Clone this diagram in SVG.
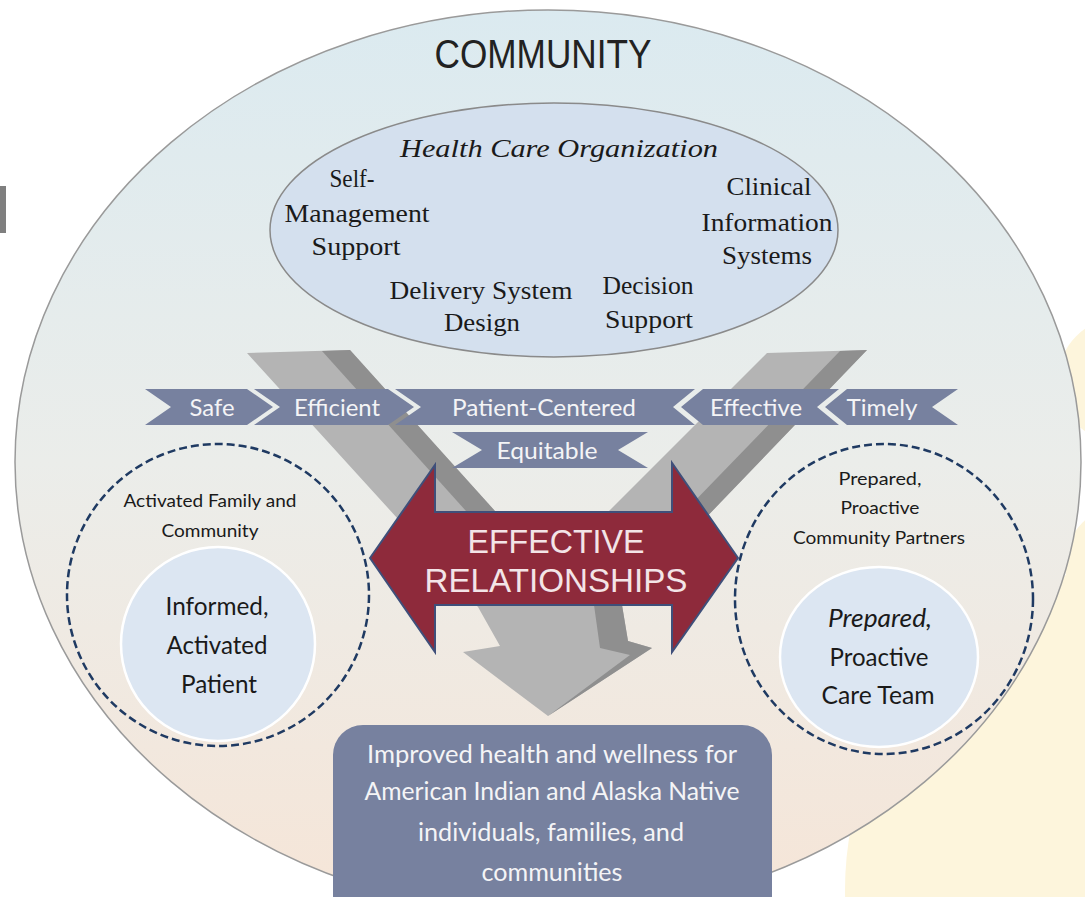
<svg xmlns="http://www.w3.org/2000/svg" width="1085" height="897" viewBox="0 0 1085 897">
<defs>
<linearGradient id="commGrad" x1="0" y1="0" x2="0" y2="1">
<stop offset="0" stop-color="#dbeaf0"/>
<stop offset="0.5" stop-color="#ebedea"/>
<stop offset="1" stop-color="#f6e5d7"/>
</linearGradient>
<style>
.serif{font-family:"Liberation Serif","DejaVu Serif",serif;fill:#1a1a1a;font-size:26px;text-anchor:middle}
.sans{font-family:Lato,"Liberation Sans",sans-serif;text-anchor:middle}
.dark{fill:#1a1a1a}
.white{fill:#f4f4f6}
.ribbon{fill:#77819f}
.dash{fill:none;stroke:#1f3a62;stroke-width:2.5;stroke-dasharray:8 4}
.inner{fill:#dce6f2;stroke:#ffffff;stroke-width:2.5}
.yellow{fill:#fdf5dc}
</style>
</defs>
<rect width="1085" height="897" fill="#ffffff"/>
<g id="background">
<circle class="yellow" cx="1120" cy="380" r="62"/>
<circle class="yellow" cx="1125" cy="565" r="60"/>
<circle class="yellow" cx="1180" cy="890" r="335"/>
<rect x="0" y="186" width="6" height="47" fill="#7f7f7f"/>
</g>
<g id="community">
<ellipse cx="548" cy="462" rx="533" ry="452" fill="url(#commGrad)" stroke="#9a9a9a" stroke-width="1.5"/>
<text x="543" y="68" font-family="'Liberation Sans',sans-serif" font-size="40" fill="#222" text-anchor="middle" textLength="217" lengthAdjust="spacingAndGlyphs">COMMUNITY</text>
</g>
<g id="health-care-organization">
<ellipse cx="554" cy="230" rx="284" ry="127" fill="#d4e0ee" stroke="#8a8a8a" stroke-width="1.5"/>
<text class="serif" x="559" y="157" font-size="28" font-style="italic" textLength="318" lengthAdjust="spacingAndGlyphs">Health Care Organization</text>
<text class="serif" x="352" y="187" textLength="45" lengthAdjust="spacingAndGlyphs">Self-</text>
<text class="serif" x="357" y="222" textLength="145" lengthAdjust="spacingAndGlyphs">Management</text>
<text class="serif" x="356" y="255" textLength="89" lengthAdjust="spacingAndGlyphs">Support</text>
<text class="serif" x="769" y="195" textLength="85" lengthAdjust="spacingAndGlyphs">Clinical</text>
<text class="serif" x="767" y="231" textLength="131" lengthAdjust="spacingAndGlyphs">Information</text>
<text class="serif" x="767" y="264" textLength="90" lengthAdjust="spacingAndGlyphs">Systems</text>
<text class="serif" x="481" y="299" textLength="183" lengthAdjust="spacingAndGlyphs">Delivery System</text>
<text class="serif" x="482" y="331" textLength="76" lengthAdjust="spacingAndGlyphs">Design</text>
<text class="serif" x="648" y="294" textLength="91" lengthAdjust="spacingAndGlyphs">Decision</text>
<text class="serif" x="649" y="328" textLength="88" lengthAdjust="spacingAndGlyphs">Support</text>
</g>
<g id="v-arrow">
<path d="M247,353 L350,350 L549,571 L767,353 L867,350 L622,605 L628,641 L652,648 L548,716 L463,652 L500,646 L478,607 Z" fill="#b4b4b4"/>
<path d="M322,351 L350,350 L549,571 L520,571 Z" fill="#8f8f8f"/>
<path d="M840,351 L867,350 L622,605 L628,641 L652,648 L548,716 L630,655 L600,648 L594,605 Z" fill="#8f8f8f"/>
</g>
<g id="ribbons">
<g id="safe">
<polygon class="ribbon" points="145,389 247,389 273,407 247,425 145,425 171,407"/>
<text class="sans white" x="212" y="416" font-size="24" textLength="45" lengthAdjust="spacingAndGlyphs">Safe</text>
</g>
<g id="efficient">
<polygon class="ribbon" points="254,389 388,389 414,407 388,425 254,425 280,407"/>
<text class="sans white" x="337" y="416" font-size="24" textLength="86" lengthAdjust="spacingAndGlyphs">Efficient</text>
</g>
<g id="patient-centered">
<polygon class="ribbon" points="395,389 695,389 673,407 695,425 395,425 421,407"/>
<text class="sans white" x="544" y="416" font-size="24" textLength="184" lengthAdjust="spacingAndGlyphs">Patient-Centered</text>
</g>
<g id="effective">
<polygon class="ribbon" points="703,389 839,389 817,407 839,425 703,425 681,407"/>
<text class="sans white" x="756" y="416" font-size="24" textLength="92" lengthAdjust="spacingAndGlyphs">Effective</text>
</g>
<g id="timely">
<polygon class="ribbon" points="847,389 958,389 932,407 958,425 847,425 825,407"/>
<text class="sans white" x="882" y="416" font-size="24" textLength="71" lengthAdjust="spacingAndGlyphs">Timely</text>
</g>
<g id="equitable">
<polygon class="ribbon" points="452,432 648,432 618,450 648,468 452,468 482,450"/>
<text class="sans white" x="547" y="459" font-size="24" textLength="101" lengthAdjust="spacingAndGlyphs">Equitable</text>
</g>
</g>
<g id="patient-side">
<circle class="dash" cx="218" cy="595" r="151"/>
<text class="sans dark" x="210" y="507" font-size="18" textLength="173" lengthAdjust="spacingAndGlyphs">Activated Family and</text>
<text class="sans dark" x="210" y="537" font-size="18" textLength="97" lengthAdjust="spacingAndGlyphs">Community</text>
<circle class="inner" cx="218" cy="644" r="97"/>
<text class="sans dark" x="217" y="615" font-size="25" textLength="103" lengthAdjust="spacingAndGlyphs">Informed,</text>
<text class="sans dark" x="217" y="654" font-size="25" textLength="101" lengthAdjust="spacingAndGlyphs">Activated</text>
<text class="sans dark" x="219" y="693" font-size="25" textLength="76" lengthAdjust="spacingAndGlyphs">Patient</text>
</g>
<g id="team-side">
<ellipse class="dash" cx="884" cy="599" rx="149" ry="155"/>
<text class="sans dark" x="880" y="485" font-size="18" textLength="83" lengthAdjust="spacingAndGlyphs">Prepared,</text>
<text class="sans dark" x="880" y="514" font-size="18" textLength="79" lengthAdjust="spacingAndGlyphs">Proactive</text>
<text class="sans dark" x="879" y="544" font-size="18" textLength="172" lengthAdjust="spacingAndGlyphs">Community Partners</text>
<ellipse class="inner" cx="879" cy="657" rx="99" ry="90"/>
<text class="sans dark" x="880" y="627" font-size="25" font-style="italic" textLength="104" lengthAdjust="spacingAndGlyphs">Prepared,</text>
<text class="sans dark" x="879" y="666" font-size="25" textLength="99" lengthAdjust="spacingAndGlyphs">Proactive</text>
<text class="sans dark" x="878" y="704" font-size="25" textLength="113" lengthAdjust="spacingAndGlyphs">Care Team</text>
</g>
<g id="effective-relationships">
<polygon points="370,558 435,465 435,512 672,512 672,463 738,558 672,652 672,605 435,605 435,652" fill="#8e2a3b" stroke="#3f4f7a" stroke-width="2"/>
<text x="556" y="553" font-family="'Liberation Sans',sans-serif" font-size="34" fill="#f3e4e7" text-anchor="middle" textLength="177" lengthAdjust="spacingAndGlyphs">EFFECTIVE</text>
<text x="556" y="592" font-family="'Liberation Sans',sans-serif" font-size="34" fill="#f3e4e7" text-anchor="middle" textLength="263" lengthAdjust="spacingAndGlyphs">RELATIONSHIPS</text>
</g>
<g id="outcome">
<rect x="333" y="725" width="439" height="200" rx="30" ry="30" fill="#77819f"/>
<text class="sans white" x="552" y="763" font-size="25" textLength="370" lengthAdjust="spacingAndGlyphs">Improved health and wellness for</text>
<text class="sans white" x="552" y="800" font-size="25" textLength="375" lengthAdjust="spacingAndGlyphs">American Indian and Alaska Native</text>
<text class="sans white" x="551" y="841" font-size="25" textLength="266" lengthAdjust="spacingAndGlyphs">individuals, families, and</text>
<text class="sans white" x="552" y="881" font-size="25" textLength="141" lengthAdjust="spacingAndGlyphs">communities</text>
</g>
<g id="connectors"></g>
</svg>
